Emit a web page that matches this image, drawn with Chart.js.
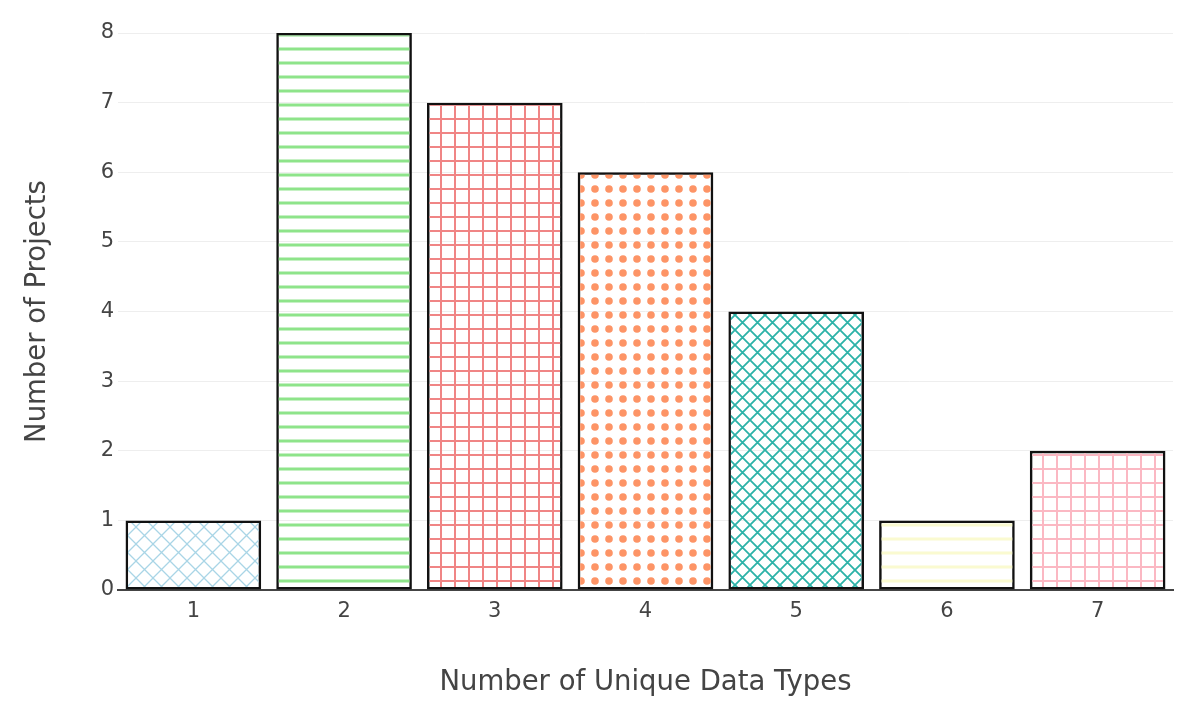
<!DOCTYPE html>
<html>
<head>
  <title>Projects by Unique Data Types</title>
  <script src="https://cdn.jsdelivr.net/npm/chart.js"></script>
  <style>
    body { margin: 0; background: #fff; }
    #wrap { width: 1200px; height: 715px; }
  </style>
</head>
<body>
  <div id="wrap"><canvas id="chart" width="1200" height="715"></canvas></div>
  <script>
    const dataTypes = ["1", "2", "3", "4", "5", "6", "7"];
    const projectCounts = [1, 8, 7, 6, 4, 1, 2];
    const yTicks = [0, 1, 2, 3, 4, 5, 6, 7, 8];

    // pattern tiles, one per bar
    function makePattern(kind, color, size, lw) {
      const c = document.createElement("canvas");
      c.width = size; c.height = size;
      const g = c.getContext("2d");
      g.strokeStyle = color;
      g.fillStyle = color;
      g.lineWidth = lw;
      if (kind === "x") {
        g.beginPath();
        g.moveTo(-1, -1); g.lineTo(size + 1, size + 1);
        g.moveTo(size + 1, -1); g.lineTo(-1, size + 1);
        g.stroke();
      } else if (kind === "-") {
        g.fillRect(0, size / 2 - lw / 2, size, lw);
      } else if (kind === "+") {
        g.fillRect(0, size / 2 - lw / 2, size, lw);
        g.fillRect(size / 2 - lw / 2, 0, lw, size);
      } else if (kind === ".") {
        g.beginPath();
        g.arc(size / 2, size / 2, lw, 0, Math.PI * 2);
        g.fill();
      }
      return document.getElementById("chart").getContext("2d").createPattern(c, "repeat");
    }

    const fills = [
      makePattern("x", "#a9d5e6", 17, 1.3),
      makePattern("-", "#8ee48a", 14, 3),
      makePattern("+", "#f08585", 14, 2),
      makePattern(".", "#fd9466", 14, 3.8),
      makePattern("x", "#2cb2a8", 15, 1.8),
      makePattern("-", "#fafad0", 14, 3),
      makePattern("+", "#fbb8c3", 14, 2)
    ];

    const font = "'DejaVu Sans', Verdana, sans-serif";

    new Chart(document.getElementById("chart"), {
      type: "bar",
      data: {
        labels: dataTypes,
        datasets: [{
          data: projectCounts,
          backgroundColor: fills,
          borderColor: "#111",
          borderWidth: 2.5,
          borderSkipped: false,
          categoryPercentage: 1,
          barPercentage: 0.9
        }]
      },
      options: {
        responsive: false,
        animation: false,
        layout: { padding: { left: 0, right: 27, top: 33, bottom: 0 } },
        plugins: { legend: { display: false }, tooltip: { enabled: false } },
        scales: {
          x: {
            grid: { display: false, drawTicks: false },
            border: { display: true, color: "#444", width: 2 },
            ticks: { color: "#444", font: { family: font, size: 21 }, padding: 9 },
            title: {
              display: true,
              text: "Number of Unique Data Types",
              color: "#444",
              font: { family: font, size: 27.5 },
              padding: { bottom: 16 }
            },
            afterFit: s => { s.height = 125; }
          },
          y: {
            min: 0,
            max: 8,
            afterBuildTicks: s => { s.ticks = yTicks.map(v => ({ value: v })); },
            grid: { color: "#eeeeee", lineWidth: 1, drawTicks: false },
            border: { display: false },
            ticks: { color: "#444", font: { family: font, size: 21 }, padding: 4 },
            title: {
              display: true,
              text: "Number of Projects",
              color: "#444",
              font: { family: font, size: 27.5 },
              padding: { top: 21 }
            },
            afterFit: s => { s.width = 118; }
          }
        }
      }
    });
  </script>
</body>
</html>
